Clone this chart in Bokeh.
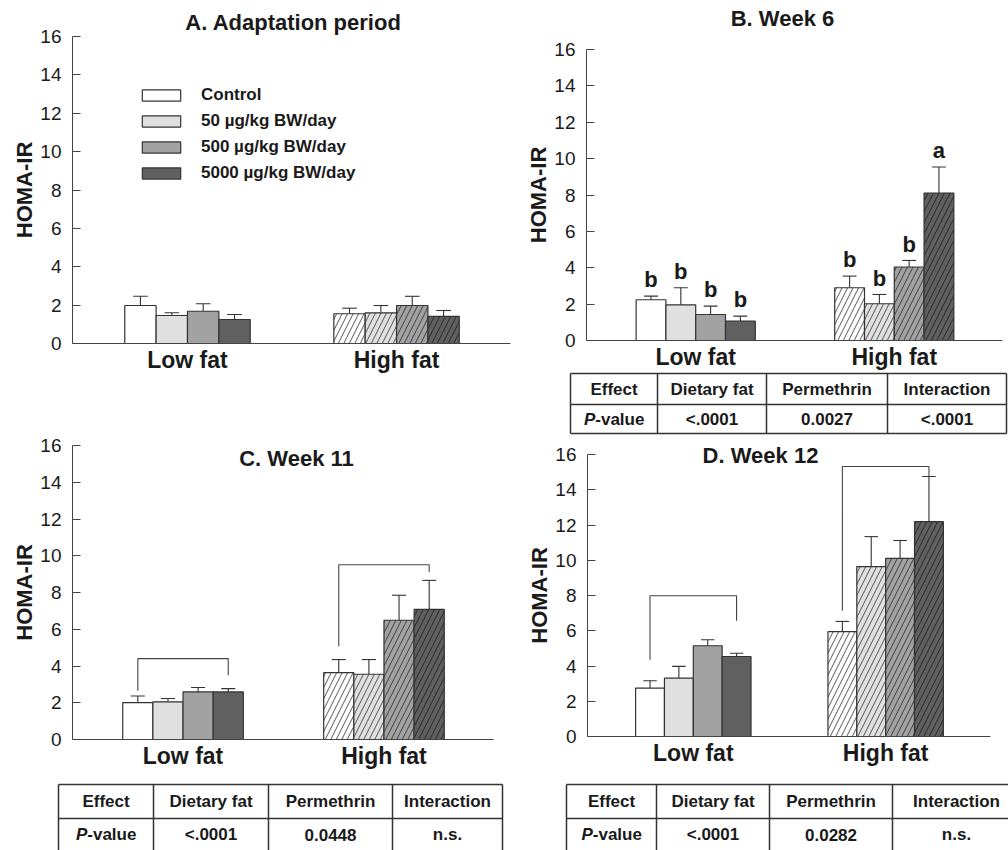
from bokeh.plotting import figure
from bokeh.models import ColumnDataSource, FixedTicker, Legend, LegendItem, Range1d
from bokeh.layouts import row, column
from bokeh.embed import file_html
from bokeh.resources import INLINE
from bokeh.core.properties import value

FONT = "Liberation Sans"

# ---------------- data ----------------
SERIES = ["Control", "50 µg/kg BW/day", "500 µg/kg BW/day", "5000 µg/kg BW/day"]
GROUPS = ["Low fat", "High fat"]
Y_TICKS = [0, 2, 4, 6, 8, 10, 12, 14, 16]

# means per series: [Low fat, High fat]
A_MEAN = [[1.98, 1.55], [1.46, 1.60], [1.68, 1.98], [1.25, 1.41]]
A_SE = [[0.48, 0.29], [0.14, 0.38], [0.39, 0.48], [0.26, 0.31]]

B_MEAN = [[2.24, 2.90], [1.96, 2.02], [1.43, 4.04], [1.06, 8.11]]
B_SE = [[0.20, 0.64], [0.94, 0.51], [0.46, 0.36], [0.28, 1.43]]
B_LETTERS = [["b", "b"], ["b", "b"], ["b", "b"], ["b", "a"]]

C_MEAN = [[2.01, 3.64], [2.05, 3.55], [2.59, 6.49], [2.59, 7.08]]
C_SE = [[0.36, 0.71], [0.18, 0.80], [0.24, 1.36], [0.18, 1.58]]
# brackets per group: (left leg bottom, bar top, right leg bottom)
C_BRACKETS = [[2.65, 4.40, 3.50], [5.07, 9.51, 9.11]]

D_MEAN = [[2.75, 5.95], [3.31, 9.64], [5.15, 10.11], [4.54, 12.19]]
D_SE = [[0.41, 0.58], [0.67, 1.70], [0.34, 1.01], [0.18, 2.56]]
D_BRACKETS = [[4.36, 7.99, 6.57], [7.14, 15.32, 14.75]]

TABLE_HEAD = ["Effect", "Dietary fat", "Permethrin", "Interaction"]
B_P = ["<.0001", "0.0027", "<.0001"]
C_P = ["<.0001", "0.0448", "n.s."]
D_P = ["<.0001", "0.0282", "n.s."]

# ---------------- style / layout ----------------
FILLS = ["#ffffff", "#e0e0e0", "#a2a2a2", "#606060"]
HATCH_COLORS = ["#444444", "#444444", "#333333", "#222222"]
GROUP_POS = [1, 3]
X_LO, X_HI = -0.1, 4.09
BAR_W = 0.30
OFFS = [-1.5, -0.5, 0.5, 1.5]
EDGE = "#333333"
AXIS_COL = "#444444"
TEXT_COL = "#1a1a1a"


def make_panel(W, H, ax, ar, y16, y0, title, tpos, means, ses,
               letters=None, brackets=None, legend_loc=None, table=None):
    k = (X_HI - X_LO) / (ar - ax)
    m = 16.0 / (y0 - y16)
    p = figure(width=W, height=H, title=None,
               x_range=Range1d(X_LO - ax * k, X_LO + (W - ax) * k),
               y_range=Range1d(-(H - y0) * m, y0 * m),
               output_backend="svg", toolbar_location=None, min_border=0)
    p.min_border_left = 0
    p.min_border_right = 0
    p.min_border_top = 0
    p.min_border_bottom = 0
    p.extra_x_ranges = {"px": Range1d(0, W)}
    p.extra_y_ranges = {"py": Range1d(H, 0)}
    p.outline_line_color = None
    p.xgrid.visible = False
    p.ygrid.visible = False
    p.background_fill_color = None
    p.border_fill_color = None

    renderers = []
    for i, s in enumerate(SERIES):
        xs = [GROUP_POS[g] + OFFS[i] * BAR_W for g in range(2)]
        tops = means[i]
        errs = [means[i][g] + ses[i][g] for g in range(2)]
        src = ColumnDataSource(dict(
            x=xs, top=tops, err=errs,
            cl=[x - 0.07 for x in xs], cr=[x + 0.07 for x in xs],
            hatch=[" ", "/"], group=GROUPS))
        p.segment(x0="x", y0="top", x1="x", y1="err", source=src,
                  line_color=EDGE, line_width=1.1)
        p.segment(x0="cl", y0="err", x1="cr", y1="err", source=src,
                  line_color=EDGE, line_width=1.1)
        r = p.vbar(x="x", top="top", bottom=0, width=BAR_W, source=src,
                   fill_color=FILLS[i], line_color=EDGE, line_width=1.2,
                   hatch_pattern="hatch", hatch_color=HATCH_COLORS[i],
                   hatch_scale=11, hatch_weight=0.9)
        renderers.append(r)
        if letters is not None:
            p.text(x=xs, y=[e + 0.2 for e in errs], text=letters[i],
                   text_font=value(FONT), text_font_size="22px",
                   text_font_style="bold", text_align="center",
                   text_baseline="bottom", text_color=TEXT_COL)

    if brackets is not None:
        for g in range(2):
            xl = GROUP_POS[g] + OFFS[0] * BAR_W
            xr = GROUP_POS[g] + OFFS[3] * BAR_W
            lb, top, rb = brackets[g]
            p.line(x=[xl, xl, xr, xr], y=[lb, top, top, rb],
                   line_color=AXIS_COL, line_width=1.1)

    p.text(x=[tpos[0]], y=[tpos[1]], text=[title], text_font=value(FONT),
           text_font_size="22px", text_font_style="bold",
           text_align="center", text_baseline="middle", text_color=TEXT_COL,
           x_range_name="px", y_range_name="py")

    # axes
    ya = p.yaxis[0]
    ya.fixed_location = X_LO
    ya.bounds = (0, 16)
    ya.ticker = FixedTicker(ticks=Y_TICKS)
    ya.minor_tick_line_color = None
    ya.major_tick_in = 8
    ya.major_tick_out = 0
    ya.major_label_standoff = 11
    ya.major_label_text_font = FONT
    ya.major_label_text_font_size = "19px"
    ya.major_label_text_color = TEXT_COL
    ya.axis_line_color = AXIS_COL
    ya.major_tick_line_color = AXIS_COL
    ya.axis_label = "HOMA-IR"
    ya.axis_label_text_font = FONT
    ya.axis_label_text_font_size = "22px"
    ya.axis_label_text_font_style = "bold"
    ya.axis_label_text_color = TEXT_COL
    ya.axis_label_standoff = 0

    xa = p.xaxis[0]
    xa.fixed_location = 0
    xa.bounds = (X_LO, X_HI)
    xa.ticker = FixedTicker(ticks=GROUP_POS)
    xa.major_label_overrides = {GROUP_POS[0]: GROUPS[0], GROUP_POS[1]: GROUPS[1]}
    xa.minor_tick_line_color = None
    xa.major_tick_line_color = None
    xa.major_tick_in = 0
    xa.major_tick_out = 0
    xa.major_label_standoff = 3
    xa.major_label_text_font = FONT
    xa.major_label_text_font_size = "23px"
    xa.major_label_text_font_style = "bold"
    xa.major_label_text_color = TEXT_COL
    xa.axis_line_color = AXIS_COL

    if legend_loc is not None:
        lg = Legend(items=[LegendItem(label=s, renderers=[r], index=0)
                           for s, r in zip(SERIES, renderers)],
                    location=legend_loc, glyph_width=48, glyph_height=14,
                    label_standoff=16, spacing=6, padding=0, margin=0,
                    label_height=20, border_line_color=None,
                    background_fill_alpha=0,
                    label_text_font=FONT, label_text_font_size="17px",
                    label_text_font_style="bold", label_text_color=TEXT_COL)
        p.add_layout(lg)

    if table is not None:
        cols, hx1, top, mid, bottom, y1, y2, pvals = table
        hy = [top, mid] + ([bottom] if bottom is not None else [])
        vb = bottom if bottom is not None else H
        p.segment(x0=[cols[0]] * len(hy), y0=hy, x1=[hx1] * len(hy), y1=hy,
                  line_color="#333333", line_width=1.5,
                  x_range_name="px", y_range_name="py")
        vcols = [c for c in cols if c < W]
        p.segment(x0=vcols, y0=[top] * len(vcols), x1=vcols, y1=[vb] * len(vcols),
                  line_color="#333333", line_width=1.5,
                  x_range_name="px", y_range_name="py")
        cx = [(cols[i] + cols[i + 1]) / 2 for i in range(4)]
        common = dict(text_font=value(FONT), text_font_size="17px",
                      text_baseline="middle", text_color=TEXT_COL,
                      x_range_name="px", y_range_name="py")
        p.text(x=cx, y=[y1] * 4, text=TABLE_HEAD, text_font_style="bold",
               text_align="center", **common)
        p.text(x=cx[1:], y=[y2] * 3, text=pvals, text_font_style="bold",
               text_align="center", **common)
        start = cx[0] - 30
        p.text(x=[start], y=[y2], text=["P"], text_font_style="bold italic",
               text_align="left", **common)
        p.text(x=[start + 11.3], y=[y2], text=["-value"],
               text_font_style="bold", text_align="left", **common)
    return p


pA = make_panel(520, 436, 72, 510, 36, 343, "A. Adaptation period", (293, 22),
                A_MEAN, A_SE, legend_loc=(137, 253))
pB = make_panel(488, 436, 66, 482, 49, 340, "B. Week 6", (262, 18),
                B_MEAN, B_SE, letters=B_LETTERS,
                table=([50, 137, 246, 367, 486], 486, 373, 404, 433,
                       388.5, 418.5, B_P))
pC = make_panel(520, 414, 72, 493, 9, 303, "C. Week 11", (296, 22),
                C_MEAN, C_SE, brackets=C_BRACKETS,
                table=([58, 153, 268, 392, 502], 502, 348, 382, None,
                       365, 398, C_P))
pD = make_panel(488, 414, 67, 470, 18, 300, "D. Week 12", (240, 19),
                D_MEAN, D_SE, brackets=D_BRACKETS,
                table=([46, 136, 249, 372, 500], 488, 348, 382, None,
                       365, 398, D_P))

layout = column(row(pA, pB), row(pC, pD))

open("out.html", "w").write(file_html(layout, INLINE))
